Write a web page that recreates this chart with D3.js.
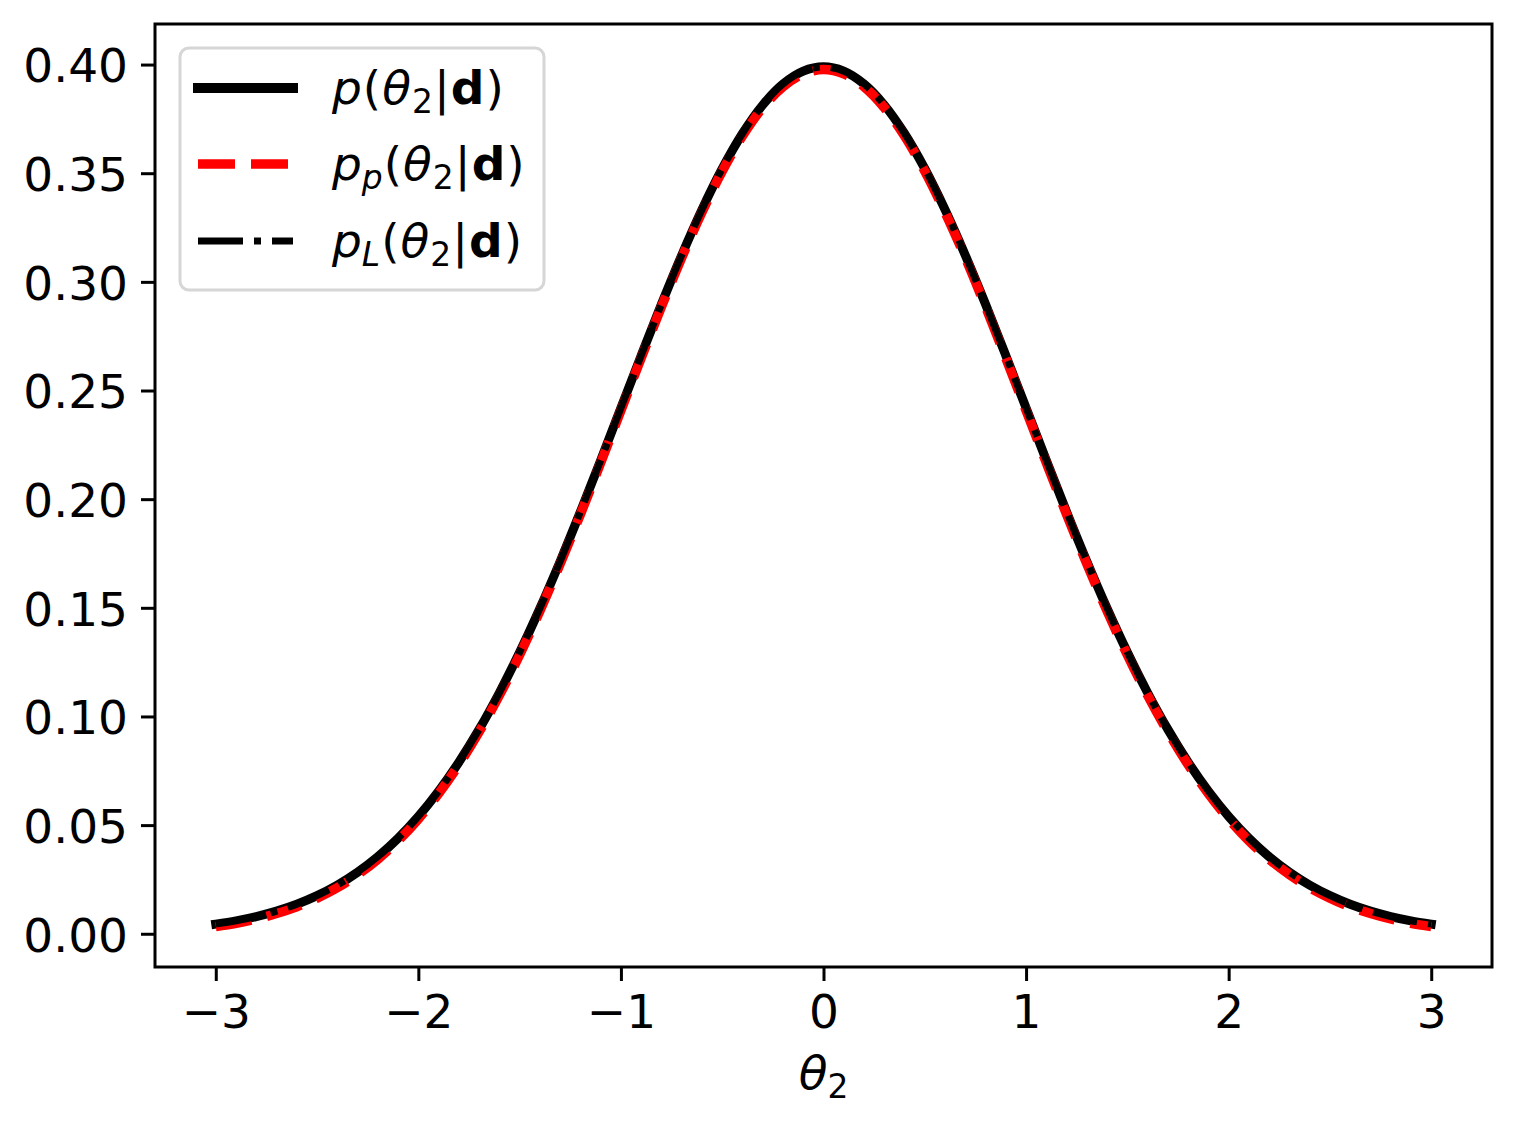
<!DOCTYPE html>
<html><head><meta charset="utf-8">
<script src="https://cdn.jsdelivr.net/npm/d3@7"></script>
<style>body{margin:0;background:#fff}svg{display:block;font-family:"DejaVu Sans",sans-serif}</style>
</head><body>
<svg id="c" width="1516" height="1124"></svg>
<script>
// theta_2 grid (x values)
const theta = [-3.0,-2.9,-2.8,-2.7,-2.6,-2.5,-2.4,-2.3,-2.2,-2.1,-2.0,-1.9,-1.8,-1.7,-1.6,-1.5,-1.4,-1.3,-1.2,-1.1,-1.0,-0.9,-0.8,-0.7,-0.6,-0.5,-0.4,-0.3,-0.2,-0.1,0.0,0.1,0.2,0.3,0.4,0.5,0.6,0.7,0.8,0.9,1.0,1.1,1.2,1.3,1.4,1.5,1.6,1.7,1.8,1.9,2.0,2.1,2.2,2.3,2.4,2.5,2.6,2.7,2.8,2.9,3.0];
// p(theta2|d)
const pExact = [0.00443,0.00595,0.00792,0.01042,0.01358,0.01753,0.02239,0.02833,0.03547,0.04398,0.05399,0.06562,0.07895,0.09405,0.11092,0.12952,0.14973,0.17137,0.19419,0.21785,0.24197,0.26609,0.28969,0.31225,0.33322,0.35207,0.36827,0.38139,0.39104,0.39695,0.39894,0.39695,0.39104,0.38139,0.36827,0.35207,0.33322,0.31225,0.28969,0.26609,0.24197,0.21785,0.19419,0.17137,0.14973,0.12952,0.11092,0.09405,0.07895,0.06562,0.05399,0.04398,0.03547,0.02833,0.02239,0.01753,0.01358,0.01042,0.00792,0.00595,0.00443];
// p_p(theta2|d)  (slightly below)
const pP = [0.0033,0.0048,0.0068,0.0093,0.0124,0.0164,0.0212,0.0272,0.0343,0.0428,0.0528,0.0645,0.0778,0.0929,0.1097,0.1283,0.1485,0.1702,0.1930,0.2167,0.2408,0.2649,0.2885,0.3111,0.3320,0.3509,0.3671,0.3802,0.3898,0.3957,0.3977,0.3957,0.3898,0.3802,0.3671,0.3509,0.3320,0.3111,0.2885,0.2649,0.2408,0.2167,0.1930,0.1702,0.1485,0.1283,0.1097,0.0929,0.0778,0.0645,0.0528,0.0428,0.0343,0.0272,0.0212,0.0164,0.0124,0.0093,0.0068,0.0048,0.0033];
// p_L(theta2|d)
const pL = [0.00443,0.00595,0.00792,0.01042,0.01358,0.01753,0.02239,0.02833,0.03547,0.04398,0.05399,0.06562,0.07895,0.09405,0.11092,0.12952,0.14973,0.17137,0.19419,0.21785,0.24197,0.26609,0.28969,0.31225,0.33322,0.35207,0.36827,0.38139,0.39104,0.39695,0.39894,0.39695,0.39104,0.38139,0.36827,0.35207,0.33322,0.31225,0.28969,0.26609,0.24197,0.21785,0.19419,0.17137,0.14973,0.12952,0.11092,0.09405,0.07895,0.06562,0.05399,0.04398,0.03547,0.02833,0.02239,0.01753,0.01358,0.01042,0.00792,0.00595,0.00443];
const xTicks = [-3,-2,-1,0,1,2,3];
const yTicks = [0.00,0.05,0.10,0.15,0.20,0.25,0.30,0.35,0.40];

const svg = d3.select("#c");
const L=155, R=1492, T=24, B=967;
const xmin=d3.min(theta), xmax=d3.max(theta), xm=(xmax-xmin)*0.05;
const xs = d3.scaleLinear().domain([xmin-xm, xmax+xm]).range([L,R]);
const ylo=d3.min(pExact), yhi=d3.max(pExact), ym=(yhi-ylo)*0.05;
const ys = d3.scaleLinear().domain([ylo-ym, yhi+ym]).range([B,T]);

const fs = 47;
// axes
const gx = svg.append("g").attr("transform",`translate(0,${B})`)
  .call(d3.axisBottom(xs).tickValues(xTicks).tickSize(14).tickPadding(14).tickFormat(d=>d<0?"\u2212"+Math.abs(d):String(d)));
const gy = svg.append("g").attr("transform",`translate(${L},0)`)
  .call(d3.axisLeft(ys).tickValues(yTicks).tickSize(14).tickPadding(13).tickFormat(d3.format(".2f")));
[gx,gy].forEach(g=>{
  g.select(".domain").remove();
  g.selectAll(".tick line").attr("stroke","#000").attr("stroke-width",3);
  g.selectAll(".tick text").attr("font-family","DejaVu Sans").attr("font-size",fs).attr("fill","#000");
});
gx.selectAll(".tick text").attr("dy",null).attr("y",61);
gy.selectAll(".tick text").attr("dy","0.37em");

// lines
const lineGen = arr => d3.line().x((d,i)=>xs(theta[i])).y(d=>ys(d)).curve(d3.curveCatmullRom)(arr);
const plot = svg.append("g");
plot.append("path").attr("d",lineGen(pExact)).attr("fill","none").attr("stroke","#000").attr("stroke-width",9).attr("stroke-linecap","square").attr("stroke-linejoin","round");
plot.append("path").attr("d",lineGen(pP)).attr("fill","none").attr("stroke","#ff0000").attr("stroke-width",9.5).attr("stroke-dasharray","36,16");
plot.append("path").attr("d",lineGen(pL)).attr("fill","none").attr("stroke","#000").attr("stroke-width",7).attr("stroke-dasharray","45,11,7,11");

// frame
svg.append("rect").attr("x",L).attr("y",T).attr("width",R-L).attr("height",B-T).attr("fill","none").attr("stroke","#000").attr("stroke-width",3);

// legend
const lg = svg.append("g");
lg.append("rect").attr("x",180).attr("y",48).attr("width",364).attr("height",242).attr("rx",9)
  .attr("fill","#fff").attr("fill-opacity",0.8).attr("stroke","#d6d6d6").attr("stroke-width",3);
const entries = [
  {sub:null, stroke:"#000", w:10, dash:null, cap:"square"},
  {sub:"p", stroke:"#ff0000", w:9.5, dash:"37,16", cap:"butt"},
  {sub:"L", stroke:"#000", w:7, dash:"45,11,7,11", cap:"butt"}
];
const rowY = [88,164,241];
entries.forEach((e,i)=>{
  const y=rowY[i];
  const ln = lg.append("line").attr("x1",198).attr("x2",293).attr("y1",y).attr("y2",y)
    .attr("stroke",e.stroke).attr("stroke-width",e.w).attr("stroke-linecap",e.cap);
  if(e.dash) ln.attr("stroke-dasharray",e.dash);
  const t = lg.append("text").attr("x",332).attr("y",y+16).attr("font-size",fs).attr("font-family","DejaVu Sans").attr("fill","#000");
  t.append("tspan").attr("font-style","italic").text("p");
  if(e.sub){
    t.append("tspan").attr("font-style","italic").attr("font-size",fs*0.7).attr("dy",9).text(e.sub);
    t.append("tspan").attr("dy",-9).attr("dx",1).text("(");
  } else {
    t.append("tspan").attr("dx",1).text("(");
  }
  t.append("tspan").attr("font-style","italic").attr("dx",1).text("\u03b8");
  t.append("tspan").attr("font-size",fs*0.7).attr("dy",9).attr("dx",1).text("2");
  t.append("tspan").attr("dy",-9).attr("dx",1).text("|");
  t.append("tspan").attr("font-weight","bold").attr("dx",1).text("d");
  t.append("tspan").attr("dx",1).text(")");
});

// x label
const xl = svg.append("text").attr("x",(L+R)/2).attr("y",1089).attr("text-anchor","middle").attr("font-size",fs).attr("font-family","DejaVu Sans");
xl.append("tspan").attr("font-style","italic").text("\u03b8");
xl.append("tspan").attr("font-size",fs*0.7).attr("dy",9).text("2");
</script>
</body></html>
